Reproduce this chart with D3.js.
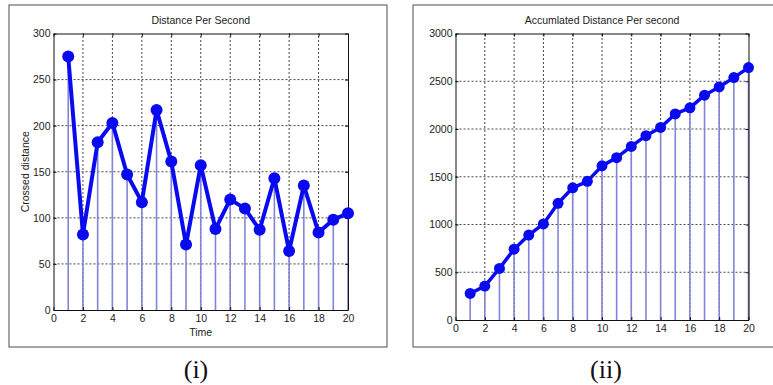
<!DOCTYPE html>
<html>
<head>
<meta charset="utf-8">
<script src="https://cdn.jsdelivr.net/npm/d3@7"></script>
<style>
  html, body { margin: 0; padding: 0; background: #fff; }
  svg { display: block; }
</style>
</head>
<body>
<svg id="fig" width="773" height="385"></svg>
<script>
// Time steps (seconds)
const timeSteps = [1,2,3,4,5,6,7,8,9,10,11,12,13,14,15,16,17,18,19,20];
// Distance crossed in each second
const distancePerSecond = [275,82,182,203,147,117,217,161,71,157,88,120,110,87,143,64,135,84,98,105];
// Accumulated distance at each second
const accumulatedDistance = [278,355,540,742,889,1006,1222,1384,1452,1614,1700,1818,1930,2016,2158,2222,2354,2440,2538,2643];

const xTicks = [0,2,4,6,8,10,12,14,16,18,20];
const yTicksLeft = [0,50,100,150,200,250,300];
const yTicksRight = [0,500,1000,1500,2000,2500,3000];

const svg = d3.select("#fig");
const tickFont = "'Liberation Sans Narrow', 'Liberation Sans', Arial, sans-serif";

function panel(opts) {
  const g = svg.append("g");
  // figure frame
  g.append("rect")
    .attr("x", opts.frame[0]).attr("y", opts.frame[1])
    .attr("width", opts.frame[2]).attr("height", opts.frame[3])
    .attr("fill", "#fff").attr("stroke", "#6a6a6a").attr("stroke-width", 1.2);

  const x = d3.scaleLinear().domain([0, 20]).range([opts.plot[0], opts.plot[2]]);
  const y = d3.scaleLinear().domain([0, opts.yMax]).range([opts.plot[3], opts.plot[1]]);

  // grid
  const grid = g.append("g").attr("stroke", "#333").attr("stroke-width", 0.9)
    .attr("stroke-dasharray", "2,2");
  grid.selectAll("line.gx").data(xTicks.slice(1, -1)).join("line")
    .attr("x1", d => x(d)).attr("x2", d => x(d))
    .attr("y1", y(0)).attr("y2", y(opts.yMax));
  grid.selectAll("line.gy").data(opts.yTicks.slice(1, -1)).join("line")
    .attr("x1", x(0)).attr("x2", x(20))
    .attr("y1", d => y(d)).attr("y2", d => y(d));

  // stems
  g.append("g").selectAll("line").data(timeSteps).join("line")
    .attr("x1", d => x(d)).attr("x2", d => x(d))
    .attr("y1", y(0)).attr("y2", (d, i) => y(opts.values[i]))
    .attr("stroke", "#8484d6").attr("stroke-width", 1.6);

  // axes box with inward ticks
  const tl = 3;
  const axB = g.append("g").attr("transform", `translate(0,${y(0)})`)
    .call(d3.axisBottom(x).tickValues(xTicks).tickSizeInner(-tl).tickSizeOuter(0).tickPadding(5).tickFormat(d3.format("d")));
  const axL = g.append("g").attr("transform", `translate(${x(0)},0)`)
    .call(d3.axisLeft(y).tickValues(opts.yTicks).tickSizeInner(-tl).tickSizeOuter(0).tickPadding(3).tickFormat(d3.format("d")));
  const axT = g.append("g").attr("transform", `translate(0,${y(opts.yMax)})`)
    .call(d3.axisTop(x).tickValues(xTicks).tickSizeInner(-tl).tickSizeOuter(0).tickFormat(""));
  const axR = g.append("g").attr("transform", `translate(${x(20)},0)`)
    .call(d3.axisRight(y).tickValues(opts.yTicks).tickSizeInner(-tl).tickSizeOuter(0).tickFormat(""));
  [axB, axL, axT, axR].forEach(a => {
    a.select(".domain").attr("stroke", "#111").attr("stroke-width", 1);
    a.selectAll(".tick line").attr("stroke", "#111");
    a.selectAll(".tick text").attr("font-family", tickFont).attr("font-size", 10.5).attr("fill", "#222");
  });

  // data line and markers
  const line = d3.line().x((d, i) => x(timeSteps[i])).y(d => y(d));
  g.append("path").datum(opts.values)
    .attr("d", line).attr("fill", "none")
    .attr("stroke", "#0a0af0").attr("stroke-width", opts.lw).attr("stroke-linejoin", "round");
  g.append("g").selectAll("circle").data(opts.values).join("circle")
    .attr("cx", (d, i) => x(timeSteps[i])).attr("cy", d => y(d))
    .attr("r", opts.r).attr("fill", "#0a0af0");

  // title
  g.append("text").attr("x", (x(0) + x(20)) / 2).attr("y", opts.plot[1] - 10)
    .attr("text-anchor", "middle").attr("font-family", tickFont).attr("font-size", 10.5)
    .attr("fill", "#222").text(opts.title);

  if (opts.xLabel) {
    g.append("text").attr("x", (x(0) + x(20)) / 2).attr("y", y(0) + 26)
      .attr("text-anchor", "middle").attr("font-family", tickFont).attr("font-size", 10.5)
      .attr("fill", "#222").text(opts.xLabel);
  }
  if (opts.yLabel) {
    g.append("text")
      .attr("transform", `translate(${x(0) - 25},${(y(0) + y(opts.yMax)) / 2}) rotate(-90)`)
      .attr("text-anchor", "middle").attr("font-family", tickFont).attr("font-size", 10.5)
      .attr("fill", "#222").text(opts.yLabel);
  }

  // caption below the frame
  svg.append("text").attr("x", opts.captionX).attr("y", 378)
    .attr("text-anchor", "middle").attr("font-family", "'Liberation Serif', 'DejaVu Serif', serif")
    .attr("font-size", 26).attr("fill", "#111").text(opts.caption);
}

panel({
  frame: [9, 5, 378, 342],
  plot: [53.5, 33.5, 348, 310],
  yMax: 300, yTicks: yTicksLeft, values: distancePerSecond,
  title: "Distance Per Second", xLabel: "Time", yLabel: "Crossed distance",
  lw: 4, r: 6, caption: "(i)", captionX: 196
});

panel({
  frame: [413, 5, 370, 342],
  plot: [455.5, 33.5, 748.5, 320],
  yMax: 3000, yTicks: yTicksRight, values: accumulatedDistance,
  title: "Accumlated Distance Per second",
  lw: 3.5, r: 5.5, caption: "(ii)", captionX: 606
});
</script>
</body>
</html>
